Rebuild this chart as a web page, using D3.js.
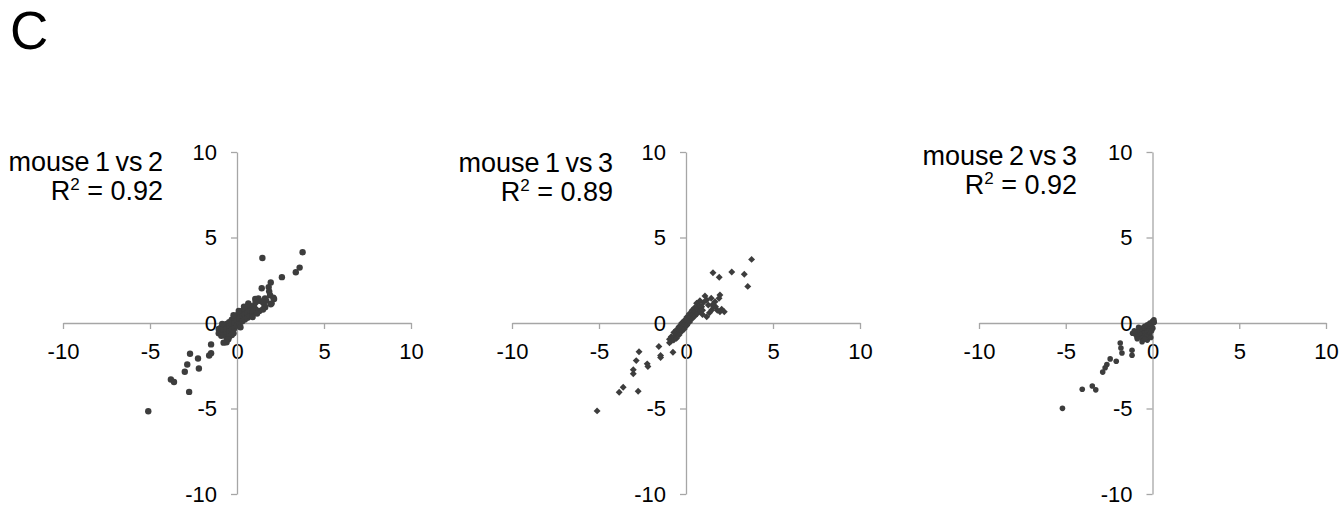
<!DOCTYPE html>
<html>
<head>
<meta charset="utf-8">
<script src="https://cdn.jsdelivr.net/npm/d3@7"></script>
<style>
  body { margin: 0; background: #fff; }
  svg { display: block; font-family: "Liberation Sans", Arial, sans-serif; }
</style>
</head>
<body>
<svg id="chart" width="1342" height="506"></svg>
<script>
// tick values shared by every panel
var tickValues = [-10, -5, 0, 5, 10];
var panelTitles = ['mouse 1 vs 2', 'mouse 1 vs 3', 'mouse 2 vs 3'];
var r2Values = ['0.92', '0.89', '0.92'];
var markerTypes = ['circle', 'diamond', 'circle'];

// mouse 1 vs 2 : [log ratio mouse 1, log ratio mouse 2]
var pointsM1vsM2 = [
  [3.77, 4.14], [1.46, 3.80], [3.60, 3.24], [3.38, 2.97], [2.58, 2.68], [1.94, 2.37],
  [1.42, 2.03], [1.82, 2.10], [1.85, 1.85], [1.90, 1.62], [2.09, 1.48], [2.13, 1.40],
  [1.99, 1.15], [1.94, 1.10], [1.61, 1.44], [1.23, 1.44], [1.05, 1.40], [1.62, 0.92],
  [0.65, 1.15], [1.68, 1.30], [0.98, 1.00], [1.58, 1.00], [1.28, 1.30], [1.28, 0.70],
  [1.07, 1.21], [1.49, 1.21], [1.07, 0.79], [1.49, 0.79],
  [-1.05, -0.35], [-1.05, -0.60], [-0.90, -0.25], [-0.90, -0.50], [-0.90, -0.75],
  [-0.75, -0.15], [-0.75, -0.40], [-0.75, -0.70], [-0.60, -0.05], [-0.60, -0.30],
  [-0.60, -0.60], [-0.60, -0.85], [-0.45, 0.05], [-0.45, -0.20], [-0.45, -0.50],
  [-0.45, -0.80], [-0.30, 0.20], [-0.30, -0.10], [-0.30, -0.40], [-0.30, -0.70],
  [-0.15, 0.30], [-0.15, 0.00], [-0.15, -0.30], [0.00, 0.45], [0.00, 0.15], [0.00, -0.15],
  [0.15, 0.55], [0.15, 0.25], [0.15, -0.05], [0.30, 0.70], [0.30, 0.40], [0.30, 0.10],
  [0.45, 0.80], [0.45, 0.50], [0.45, 0.20], [0.60, 0.90], [0.60, 0.60], [0.60, 0.30],
  [0.75, 1.00], [0.75, 0.70], [0.75, 0.40], [0.90, 0.90], [0.90, 0.60], [0.90, 0.35],
  [-0.20, 0.45], [0.10, 0.70], [0.40, 0.95], [-0.50, -0.95], [-0.20, -0.60],
  [-0.85, -0.05], [1.15, 0.55], [0.20, -0.25],
  [-0.60, -1.13], [-0.77, -1.15], [-1.49, -1.25], [-1.49, -1.77], [-1.60, -1.90],
  [-2.70, -1.80], [-2.24, -2.08], [-2.19, -2.66], [-2.86, -2.43], [-3.00, -2.85],
  [-3.80, -3.30], [-3.62, -3.45], [-2.75, -4.03], [-5.10, -5.16]
];

// mouse 1 vs 3
var pointsM1vsM3 = [
  [3.77, 3.72], [1.55, 2.94], [2.63, 2.98], [3.35, 2.85], [1.91, 2.68], [3.55, 2.14],
  [1.95, 1.64], [1.90, 1.45], [1.09, 1.58], [1.19, 1.35], [0.61, 1.15], [1.67, 1.25],
  [1.70, 0.95], [1.58, 0.95], [1.95, 0.66], [2.20, 0.66], [1.48, 0.76], [1.19, 0.37],
  [1.28, 1.05], [0.90, 0.95], [1.45, 1.45], [2.05, 0.80], [1.80, 0.75], [1.35, 0.60],
  [1.00, 1.20], [1.55, 1.10],
  [-0.95, -0.95], [-0.95, -1.15], [-0.85, -0.80], [-0.85, -1.05], [-0.70, -0.55],
  [-0.70, -0.80], [-0.70, -1.00], [-0.55, -0.40], [-0.55, -0.65], [-0.55, -0.90],
  [-0.40, -0.20], [-0.40, -0.45], [-0.40, -0.70], [-0.25, 0.00], [-0.25, -0.25],
  [-0.25, -0.50], [-0.10, 0.15], [-0.10, -0.10], [-0.10, -0.35], [0.05, 0.35],
  [0.05, 0.10], [0.05, -0.15], [0.20, 0.55], [0.20, 0.30], [0.20, 0.05], [0.35, 0.75],
  [0.35, 0.50], [0.35, 0.25], [0.50, 0.90], [0.50, 0.65], [0.50, 0.40], [0.65, 0.85],
  [0.65, 0.55], [0.80, 1.00], [0.80, 0.70], [0.80, 1.30], [0.95, 0.75], [0.95, 0.50],
  [-1.56, -1.37], [-2.70, -1.68], [-0.75, -1.71], [-1.46, -1.90], [-1.46, -2.02],
  [-2.86, -2.20], [-2.23, -2.39], [-2.19, -2.54], [-3.03, -2.73], [-3.03, -2.97],
  [-3.61, -3.76], [-3.84, -4.05], [-2.75, -3.99], [-5.11, -5.14]
];

// mouse 2 vs 3
var pointsM2vsM3 = [
  [0.08, 0.18], [0.00, 0.10], [-0.05, -0.05], [0.05, 0.00], [-0.15, 0.00], [-0.20, -0.15],
  [-0.10, -0.20], [-0.30, -0.10], [-0.35, -0.30], [-0.25, -0.35], [-0.45, -0.20],
  [-0.50, -0.40], [-0.40, -0.50], [-0.60, -0.30], [-0.65, -0.50], [-0.55, -0.60],
  [-0.75, -0.40], [-0.80, -0.60], [-0.70, -0.70], [-0.90, -0.50], [-1.00, -0.65],
  [-0.90, -0.80], [-1.15, -0.60], [-0.30, -0.55], [-0.20, -0.45], [-0.45, -0.75],
  [-0.60, -0.90], [-0.88, -0.92], [-0.60, -1.09], [-0.30, -1.00], [-0.15, -0.65],
  [-0.35, -0.80], [0.02, -0.30], [-0.05, -0.45], [-1.05, -0.45], [-0.80, -0.25],
  [-0.45, -0.95], [-0.10, -0.85], [0.10, 0.05],
  [-1.86, -1.17], [-1.82, -1.46], [-1.76, -1.75], [-1.18, -1.60], [-1.18, -1.89],
  [-2.09, -2.24], [-2.44, -2.10], [-2.63, -2.43], [-2.73, -2.62], [-2.87, -2.87],
  [-4.05, -3.87], [-3.47, -3.68], [-3.27, -3.91], [-5.19, -4.99]
];

var panelPoints = [pointsM1vsM2, pointsM1vsM3, pointsM2vsM3];

var svg = d3.select('#chart');
var axisColor = '#a6a6a6';
var dotColor = '#3d3d3d';
// horizontal pixel extent of each panel's x axis
var panelRanges = [[63, 411], [512, 860], [979, 1326]];
// right edge and baselines of each panel's title
var titleRight = [163, 613, 1077];
var titleBaseline = [171, 172, 165];

svg.append('text')
  .attr('x', 10)
  .attr('y', 49)
  .attr('font-size', 53)
  .attr('fill', '#000')
  .text('C');

var yScale = d3.scaleLinear().domain([-10, 10]).range([494, 152]);

panelRanges.forEach(function(range, i) {
  var xScale = d3.scaleLinear().domain([-10, 10]).range(range);
  var g = svg.append('g');

  // plain hyphen minus like the original, not the unicode minus d3.format gives
  var fmt = function(d) { return String(d); };
  var xAxis = d3.axisBottom(xScale).tickValues(tickValues).tickFormat(fmt).tickSize(6).tickSizeOuter(0).tickPadding(14);
  var yAxis = d3.axisLeft(yScale).tickValues(tickValues).tickFormat(fmt).tickSize(6).tickSizeOuter(0).tickPadding(14);

  var gx = g.append('g').attr('transform', 'translate(0,' + yScale(0) + ')').call(xAxis);
  var gy = g.append('g').attr('transform', 'translate(' + xScale(0) + ',0)').call(yAxis);

  [gx, gy].forEach(function(ax) {
    ax.attr('font-family', null).attr('font-size', null);
    ax.selectAll('path, line').attr('stroke', axisColor).attr('stroke-width', 1.3);
    ax.selectAll('text').attr('fill', '#000').attr('font-size', 22);
  });

  // points
  if (markerTypes[i] === 'diamond') {
    var diamond = d3.symbol().type(d3.symbolSquare).size(24);
    g.append('g').selectAll('path')
      .data(panelPoints[i])
      .enter()
      .append('path')
      .attr('d', diamond)
      .attr('transform', function(d) { return 'translate(' + xScale(d[0]) + ',' + yScale(d[1]) + ') rotate(45)'; })
      .attr('fill', dotColor);
  } else {
    g.append('g').selectAll('circle')
      .data(panelPoints[i])
      .enter()
      .append('circle')
      .attr('cx', function(d) { return xScale(d[0]); })
      .attr('cy', function(d) { return yScale(d[1]); })
      .attr('r', i === 0 ? 3.2 : 2.8)
      .attr('fill', dotColor);
  }

  // title and R squared
  g.append('text')
    .attr('x', titleRight[i])
    .attr('y', titleBaseline[i])
    .attr('text-anchor', 'end')
    .attr('font-size', 27)
    .attr('word-spacing', -2)
    .attr('fill', '#000')
    .text(panelTitles[i]);

  var r2 = g.append('text')
    .attr('x', titleRight[i])
    .attr('y', titleBaseline[i] + 29)
    .attr('text-anchor', 'end')
    .attr('font-size', 27)
    .attr('fill', '#000');
  r2.append('tspan').text('R');
  r2.append('tspan').attr('font-size', 17).attr('dy', -10).text('2');
  r2.append('tspan').attr('dy', 10).text(' = ' + r2Values[i]);
});
</script>
</body>
</html>
